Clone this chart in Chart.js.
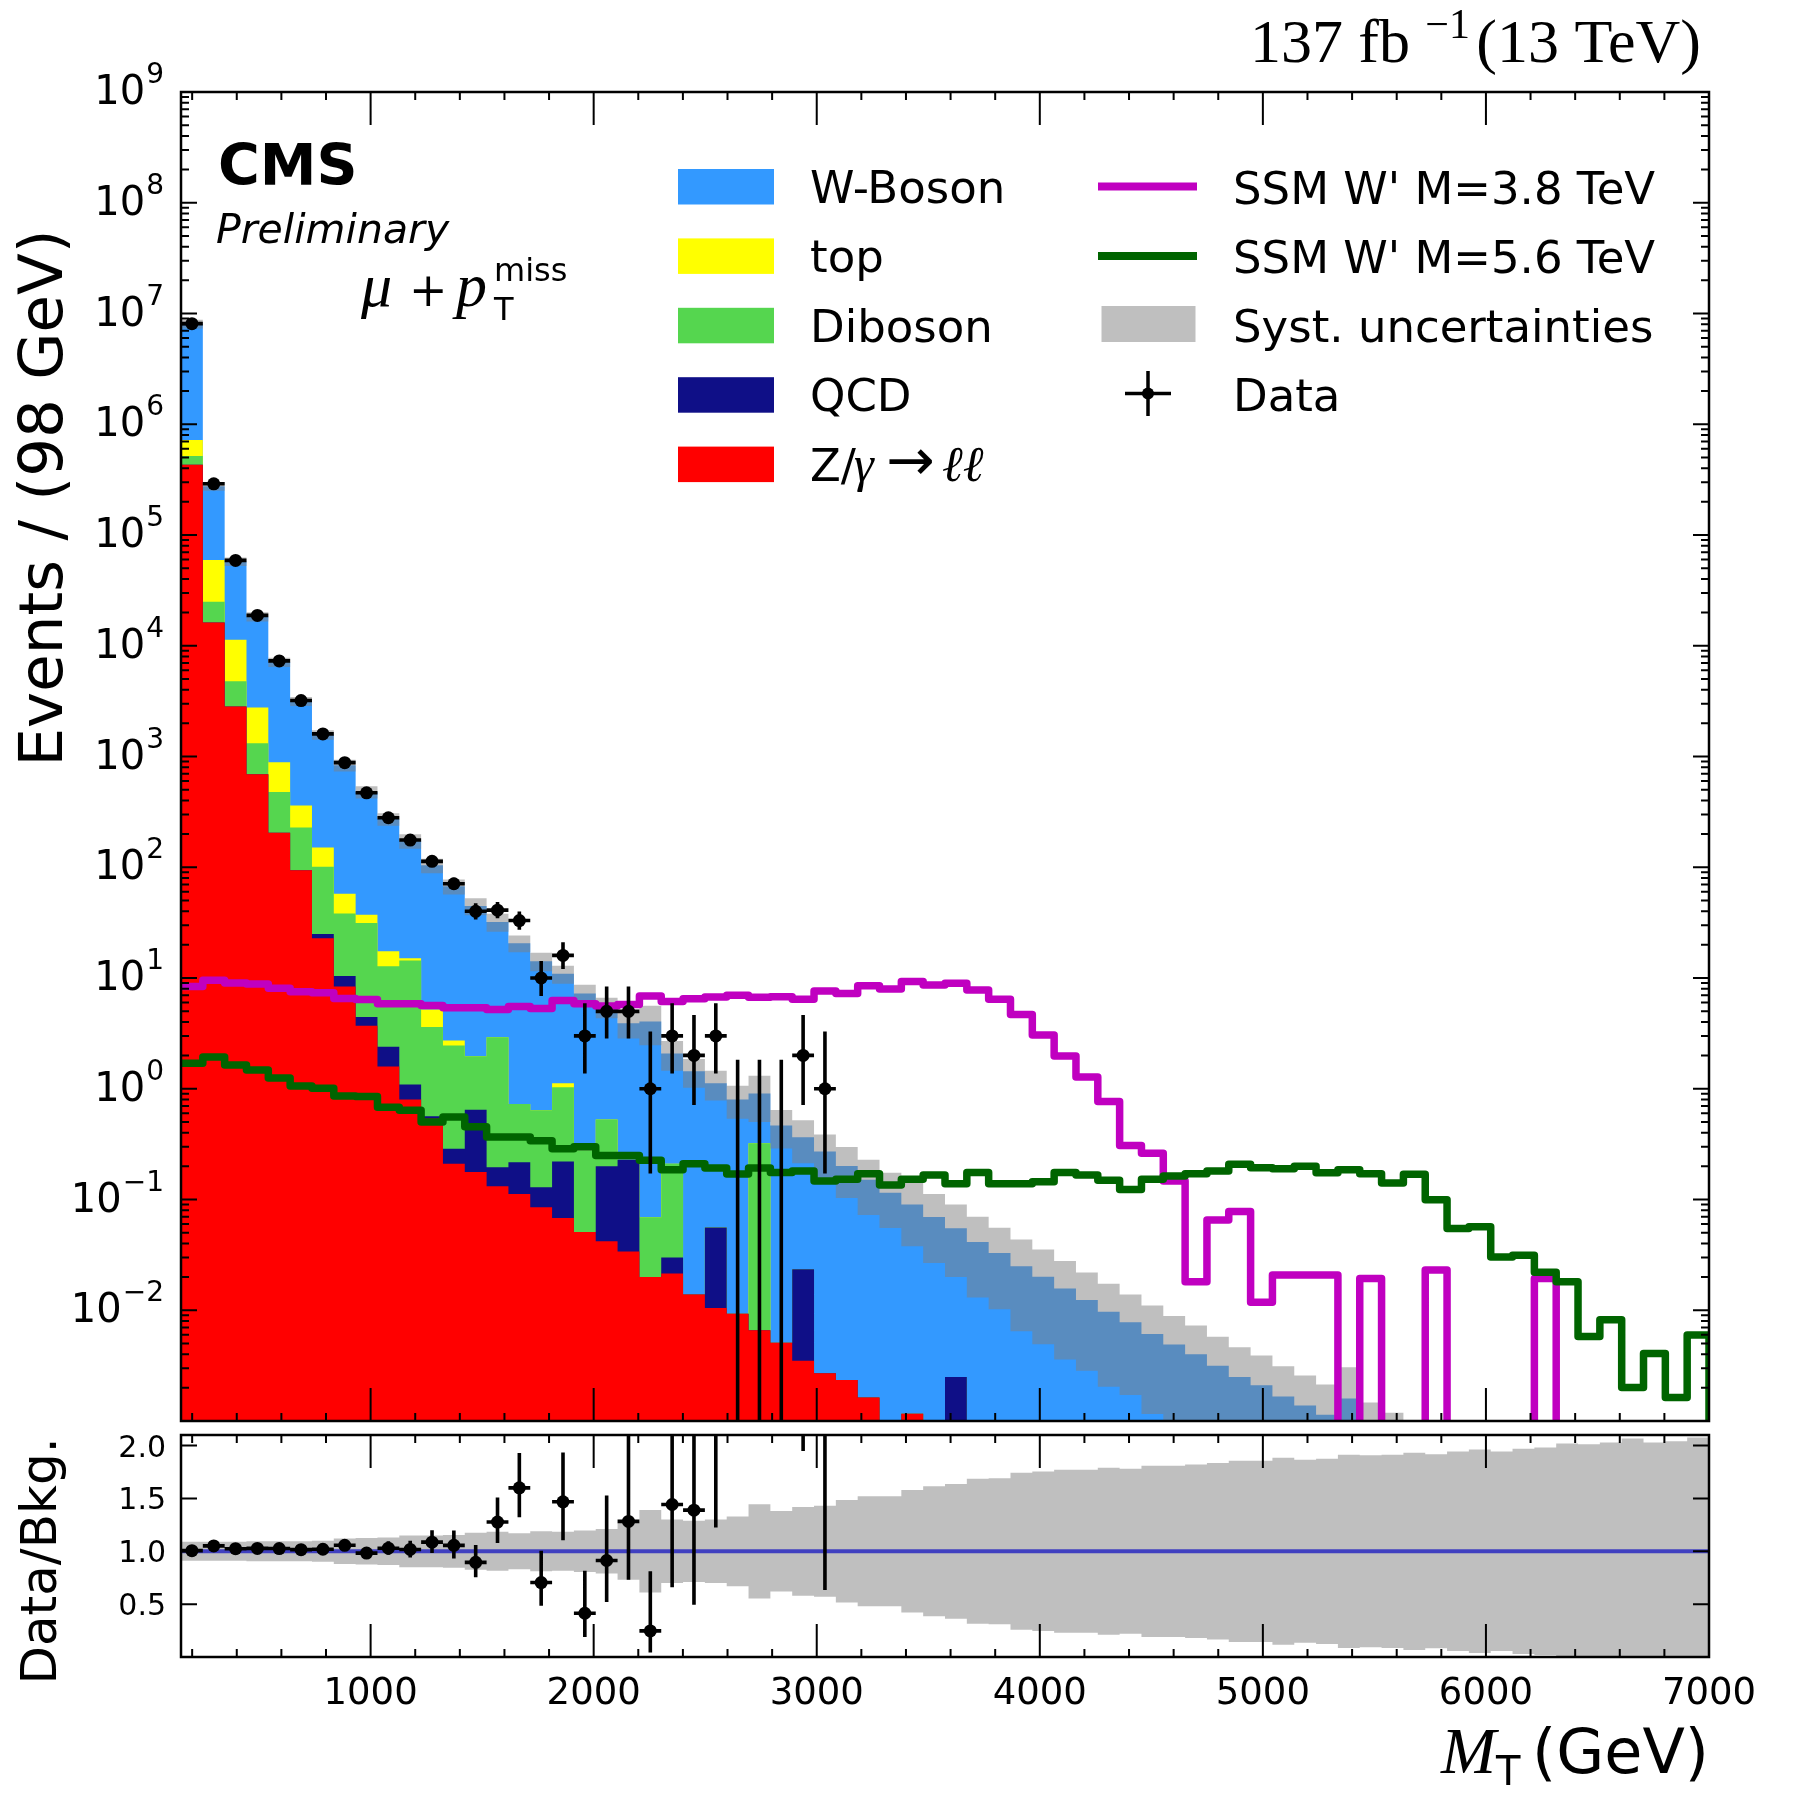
<!DOCTYPE html>
<html lang="en">
<head>
<meta charset="UTF-8">
<meta name="viewport" content="width=device-width, initial-scale=1.0">
<title>MT spectrum, mu + pT miss</title>
<script src="https://cdn.jsdelivr.net/npm/chart.js"></script>
<style>
  body { margin: 0; background: #fff; }
  .page { position: relative; width: 1800px; height: 1800px; }
  canvas { position: absolute; left: 0; }
  #mainChart { top: 0; }
  #ratioChart { top: 1428px; }
</style>
</head>
<body>
<div class="page">
  <canvas id="mainChart" width="1800" height="1428"></canvas>
  <canvas id="ratioChart" width="1800" height="372"></canvas>
</div>
<script>
// binning: 70 bins of ~98 GeV between 150 and 7000 GeV
const X_MIN = 150, X_MAX = 7000, NBINS = 70;
const BIN_W = (X_MAX - X_MIN) / NBINS;
const FLOOR = 1e-6; // empty bins on the log axis

// expected events per bin
const zll = [
  430000, 16200, 2830, 690, 205, 94, 22.9, 8.4, 3.7, 1.59,
  0.80, 0.54, 0.21, 0.177, 0.132, 0.112, 0.085, 0.068, 0.051, 0.042,
  0.034, 0.020, 0.0215, 0.0139, 0.0105, 0.0093, 0.0066, 0.0051, 0.0035, 0.0027,
  0.00235, 0.00163, 0, 0.00116, 0, 0, 0, 0, 0, 0,
  0, 0, 0, 0, 0, 0, 0, 0, 0, 0,
  0, 0, 0, 0, 0, 0, 0, 0, 0, 0,
  0, 0, 0, 0, 0, 0, 0, 0, 0, 0
];
const qcd = [
  0, 0, 0, 0, 0, 0, 2.1, 2.0, 0.75, 0.81,
  0.29, 0.024, 0.077, 0.47, 0.064, 0.105, 0.044, 0.152, 0, 0.158,
  0.194, 0, 0.0085, 0, 0.0453, 0, 0, 0, 0.0199, 0,
  0, 0, 0, 0, 0, 0.0025, 0, 0, 0, 0,
  0, 0, 0, 0, 0, 0, 0, 0, 0, 0,
  0, 0, 0, 0, 0, 0, 0, 0, 0, 0,
  0, 0, 0, 0, 0, 0, 0, 0, 0, 0
];
const diboson = [
  87000, 8800, 1940, 630, 273, 135, 76, 27.8, 26.9, 10.4,
  13.3, 3.04, 2.17, 1.32, 2.72, 0.51, 0.51, 0.81, 0.226, 0.328,
  0, 0.049, 0.18, 0, 0, 0, 0.316, 0, 0, 0,
  0, 0, 0, 0, 0, 0, 0, 0, 0, 0,
  0, 0, 0, 0, 0, 0, 0, 0, 0, 0,
  0, 0, 0, 0, 0, 0, 0, 0, 0, 0,
  0, 0, 0, 0, 0, 0, 0, 0, 0, 0
];
const topq = [
  205000, 34600, 6530, 1450, 409, 132, 50, 19.5, 5.9, 4.6,
  0.7, 1.6, 0.27, 0, 0, 0, 0, 0.09, 0, 0,
  0, 0, 0, 0, 0, 0, 0, 0, 0, 0,
  0, 0, 0, 0, 0, 0, 0, 0, 0, 0,
  0, 0, 0, 0, 0, 0, 0, 0, 0, 0,
  0, 0, 0, 0, 0, 0, 0, 0, 0, 0,
  0, 0, 0, 0, 0, 0, 0, 0, 0, 0
];
const wboson = [
  7330000, 216400, 46300, 15530, 6230, 2790, 1419, 775, 441, 254.6,
  157.9, 98.8, 64.5, 42.7, 29.2, 19.9, 13.56, 9.78, 6.97, 4.95,
  3.67, 3.98, 1.87, 1.426, 1.064, 0.791, 0.583, 0.461, 0.342, 0.268,
  0.198, 0.149, 0.115, 0.089, 0.0695, 0.0525, 0.0414, 0.0329, 0.025, 0.0201,
  0.0157, 0.0124, 0.0097, 0.0078, 0.0061, 0.0049, 0.0040, 0.00315, 0.0025, 0.0021,
  0.00166, 0.00138, 0.00114, 0.0016, 0.00077, 0.00062, 0, 0, 0, 0,
  0, 0, 0, 0, 0, 0, 0, 0, 0, 0
];
// relative systematic uncertainty on the total background
const systRel = [
  0.09, 0.09, 0.09, 0.095, 0.095, 0.095, 0.10, 0.12, 0.125, 0.13,
  0.15, 0.15, 0.155, 0.175, 0.185, 0.17, 0.19, 0.185, 0.197, 0.21,
  0.27, 0.39, 0.30, 0.29, 0.30, 0.33, 0.446, 0.38, 0.42, 0.43,
  0.485, 0.52, 0.52, 0.58, 0.615, 0.637, 0.685, 0.69, 0.742, 0.755,
  0.771, 0.771, 0.79, 0.78, 0.81, 0.81, 0.82, 0.834, 0.857, 0.857,
  0.885, 0.866, 0.876, 0.914, 0.908, 0.914, 0.933, 0.917, 0.943, 0.962,
  0.943, 0.971, 0.981, 1.019, 1.013, 1.029, 1.067, 1.029, 1.041, 1.076
];
// signal hypotheses
const wprime38 = [
  8.36, 9.52, 9.02, 8.83, 8.09, 7.50, 7.34, 6.52, 6.40, 5.86,
  5.86, 5.65, 5.38, 5.38, 5.20, 5.54, 5.30, 6.27, 5.86, 5.60,
  5.76, 6.87, 6.15, 6.50, 6.75, 6.98, 6.70, 6.77, 6.44, 7.63,
  7.26, 8.53, 7.96, 9.29, 8.65, 8.97, 7.79, 6.44, 4.67, 3.06,
  1.98, 1.28, 0.766, 0.307, 0.261, 0.147, 0.0181, 0.0653, 0.078, 0.0118,
  0.0208, 0.0208, 0.0208, 0, 0.0194, 0, 0, 0.0231, 0, 0,
  0, 0, 0.0194, 0, 0, 0, 0, 0, 0, 0
];
const wprime56 = [
  1.70, 1.93, 1.64, 1.48, 1.25, 1.06, 1.01, 0.86, 0.85, 0.68,
  0.64, 0.50, 0.555, 0.454, 0.366, 0.366, 0.34, 0.287, 0.30, 0.25,
  0.25, 0.226, 0.186, 0.21, 0.192, 0.170, 0.192, 0.175, 0.181, 0.147,
  0.152, 0.171, 0.135, 0.152, 0.166, 0.139, 0.175, 0.139, 0.139, 0.145,
  0.175, 0.166, 0.149, 0.123, 0.152, 0.163, 0.171, 0.181, 0.208, 0.194,
  0.190, 0.200, 0.174, 0.186, 0.171, 0.141, 0.169, 0.0996, 0.0548, 0.0568,
  0.0302, 0.0313, 0.022, 0.0181, 0.00578, 0.0082, 0.00201, 0.00406, 0.00163, 0.00598
];
// observed events (first 30 bins, nothing shown above)
const dataCounts = [
  8100000, 290000, 59000, 18800, 7300, 3200, 1600, 880, 470, 280,
  176, 113, 71, 40, 41, 33, 10, 16, 3, 5,
  5, 1, 3, 2, 3, 0, 0, 0, 2, 1
];
// axis labels
const logLabelExps = [-2, -1, 0, 1, 2, 3, 4, 5, 6, 7, 8, 9];
const ratioTicks = [0.5, 1.0, 1.5, 2.0];
const xLabelTicks = [1000, 2000, 3000, 4000, 5000, 6000, 7000];

// colours
const C_W = '#3399ff', C_TOP = '#ffff00', C_DIB = '#55d64f', C_QCD = '#0f0f87', C_ZLL = '#ff0000';
const C_M38 = '#c000c0', C_M56 = '#006400', C_SYST = 'rgba(127,127,127,0.5)', C_UNITY = '#4040c0';
const SANS = '"DejaVu Sans"';
const SERIF = '"Liberation Serif", "DejaVu Serif"';

Chart.defaults.font.family = SANS;

// ---- derived tables ----
const edges = [];
for (let i = 0; i <= NBINS; i++) edges.push(X_MIN + i * BIN_W);
const centers = edges.slice(0, NBINS).map(e => e + BIN_W / 2);

function addUp(...parts) {
  return parts[0].map((_, i) => parts.reduce((s, p) => s + p[i], 0));
}
const cumQcd = addUp(zll, qcd);
const cumDib = addUp(zll, qcd, diboson);
const cumTop = addUp(zll, qcd, diboson, topq);
const total = addUp(zll, qcd, diboson, topq, wboson);

function histPoints(vals, floor) {
  const pts = vals.map((v, i) => ({ x: edges[i], y: Math.max(v, floor) }));
  pts.push({ x: edges[vals.length], y: pts[vals.length - 1].y });
  return pts;
}
// outline that drops to zero after the last bin
function outlinePoints(vals) {
  return [...histPoints(vals, FLOOR), { x: edges[NBINS], y: FLOOR }];
}

// Garwood intervals (Wilson-Hilferty form)
function poisLow(n) { return n > 0 ? n * Math.pow(1 - 1 / (9 * n) - 1 / (3 * Math.sqrt(n)), 3) : 0; }
function poisHigh(n) { const m = n + 1; return m * Math.pow(1 - 1 / (9 * m) + 1 / (3 * Math.sqrt(m)), 3); }

const dataBars = [], dataDots = [], ratioBars = [], ratioDots = [];
dataCounts.forEach((n, i) => {
  const xc = centers[i], x0 = edges[i], x1 = edges[i + 1];
  const lo = poisLow(n), hi = poisHigh(n);
  dataBars.push({ x: xc, y: Math.max(lo, FLOOR) }, { x: xc, y: hi }, { x: xc, y: null });
  if (n > 0) {
    const t = total[i];
    dataBars.push({ x: x0, y: n }, { x: x1, y: n }, { x: x1, y: null });
    dataDots.push({ x: xc, y: n });
    ratioBars.push({ x: xc, y: lo / t }, { x: xc, y: hi / t }, { x: xc, y: null },
                   { x: x0, y: n / t }, { x: x1, y: n / t }, { x: x1, y: null });
    ratioDots.push({ x: xc, y: n / t });
  }
});

const bandLow = total.map((t, i) => t * (1 - systRel[i]));
const bandHigh = total.map((t, i) => t * (1 + systRel[i]));
const ratioLow = systRel.map(r => 1 - r);
const ratioHigh = systRel.map(r => 1 + r);

// ---- frame and inward ticks ----
const xTickSpec = [];
for (let v = 200; v < X_MAX; v += 200) xTickSpec.push({ v, len: v % 1000 === 0 ? 33 : 8 });
const logTickSpec = [];
for (let k = -3; k <= 9; k++) {
  logTickSpec.push({ v: Math.pow(10, k), len: 16 });
  if (k < 9) for (let m = 2; m <= 9; m++) logTickSpec.push({ v: m * Math.pow(10, k), len: 8 });
}
const ratioTickSpec = ratioTicks.map(v => ({ v, len: 16 }));

function makeFrame(yTicks) {
  return {
    id: 'frame',
    afterDatasetsDraw(chart) {
      const { ctx, chartArea: a } = chart;
      const xs = chart.scales.x, ys = chart.scales.y;
      ctx.save();
      ctx.strokeStyle = '#000';
      ctx.lineWidth = 2;
      ctx.beginPath();
      xTickSpec.forEach(t => {
        const px = xs.getPixelForValue(t.v);
        ctx.moveTo(px, a.bottom); ctx.lineTo(px, a.bottom - t.len);
        ctx.moveTo(px, a.top); ctx.lineTo(px, a.top + t.len);
      });
      yTicks.forEach(t => {
        const py = ys.getPixelForValue(t.v);
        ctx.moveTo(a.left, py); ctx.lineTo(a.left + t.len, py);
        ctx.moveTo(a.right, py); ctx.lineTo(a.right - t.len, py);
      });
      ctx.stroke();
      ctx.lineWidth = 2.5;
      ctx.strokeRect(a.left, a.top, a.right - a.left, a.bottom - a.top);
      ctx.restore();
    }
  };
}

function rotatedText(ctx, text, cx, cy, size) {
  ctx.save();
  ctx.translate(cx, cy);
  ctx.rotate(-Math.PI / 2);
  ctx.textAlign = 'center';
  ctx.font = `${size}px ${SANS}`;
  ctx.fillText(text, 0, 0.365 * size);
  ctx.restore();
}

// ---- texts and legend of the upper panel ----
const legendBoxes = [
  { label: 'W-Boson', color: C_W },
  { label: 'top', color: C_TOP },
  { label: 'Diboson', color: C_DIB },
  { label: 'QCD', color: C_QCD },
  { label: null, color: C_ZLL }
];

const mainDeco = {
  id: 'mainDeco',
  afterDraw(chart) {
    const ctx = chart.ctx, ys = chart.scales.y;
    ctx.save();
    ctx.fillStyle = '#000';
    ctx.textAlign = 'left';
    ctx.textBaseline = 'alphabetic';

    // 10^k labels, right edge at x = 164
    logLabelExps.forEach(k => {
      const py = ys.getPixelForValue(Math.pow(10, k));
      const ex = k < 0 ? '\u2212' + (-k) : String(k);
      ctx.font = `28px ${SANS}`;
      const ew = ctx.measureText(ex).width;
      ctx.fillText(ex, 164 - ew, py - 9);
      ctx.font = `40px ${SANS}`;
      ctx.fillText('10', 164 - ew - ctx.measureText('10').width - 1, py + 12);
    });

    rotatedText(ctx, 'Events / (98 GeV)', 40, 498, 61);

    ctx.font = `bold 57px ${SANS}`;
    ctx.fillText('CMS', 218, 185);
    ctx.font = `italic 41px ${SANS}`;
    ctx.fillText('Preliminary', 216, 243);

    // mu + pT^miss
    ctx.font = `italic 62px ${SERIF}`;
    ctx.fillText('\u03bc', 361, 306);
    ctx.font = `46px "DejaVu Serif"`;
    ctx.fillText('+', 409, 306);
    ctx.font = `italic 62px ${SERIF}`;
    ctx.fillText('p', 456, 306);
    ctx.font = `32px ${SANS}`;
    ctx.fillText('miss', 494, 281);
    ctx.fillText('T', 494, 320);

    // luminosity label, laid out from the right
    ctx.textAlign = 'right';
    ctx.font = `62px ${SERIF}`;
    ctx.fillText('(13 TeV)', 1701, 62);
    ctx.fillText('fb', 1410, 62);
    ctx.fillText('137', 1343, 62);
    ctx.font = `42px ${SERIF}`;
    ctx.fillText('\u22121', 1470, 38);
    ctx.textAlign = 'left';

    // legend, left column
    legendBoxes.forEach((item, i) => {
      const top = 169 + i * 69.4;
      ctx.fillStyle = item.color;
      ctx.fillRect(678, top, 96, 35.5);
      ctx.fillStyle = '#000';
      const base = top + 34;
      if (item.label) {
        ctx.font = `45px ${SANS}`;
        ctx.fillText(item.label, 810, base);
      } else {
        ctx.font = `45px ${SANS}`;
        ctx.fillText('Z/', 810, base);
        ctx.font = `italic 50px ${SERIF}`;
        ctx.fillText('\u03b3', 854, base);
        ctx.font = `58px ${SANS}`;
        ctx.fillText('\u2192', 886, base - 1);
        ctx.font = `italic 50px ${SERIF}`;
        ctx.fillText('\u2113\u2113', 942, base);
      }
    });

    // legend, right column
    ctx.lineWidth = 8;
    ctx.strokeStyle = C_M38;
    ctx.beginPath(); ctx.moveTo(1098, 186.5); ctx.lineTo(1197, 186.5); ctx.stroke();
    ctx.strokeStyle = C_M56;
    ctx.beginPath(); ctx.moveTo(1098, 256); ctx.lineTo(1197, 256); ctx.stroke();
    ctx.fillStyle = C_SYST;
    ctx.fillRect(1101.5, 306, 94, 36);
    ctx.strokeStyle = '#000';
    ctx.lineWidth = 3.5;
    ctx.beginPath();
    ctx.moveTo(1148, 371); ctx.lineTo(1148, 416);
    ctx.moveTo(1125, 393.5); ctx.lineTo(1171, 393.5);
    ctx.stroke();
    ctx.fillStyle = '#000';
    ctx.beginPath(); ctx.arc(1148, 393.5, 6, 0, 2 * Math.PI); ctx.fill();

    ctx.font = `45px ${SANS}`;
    ctx.fillText("SSM W' M=3.8 TeV", 1233, 203.5);
    ctx.fillText("SSM W' M=5.6 TeV", 1233, 273);
    ctx.fillText('Syst. uncertainties', 1233, 342);
    ctx.fillText('Data', 1233, 411);
    ctx.restore();
  }
};

// ---- texts of the ratio panel (canvas starts at y = 1428) ----
const ratioDeco = {
  id: 'ratioDeco',
  afterDraw(chart) {
    const ctx = chart.ctx, xs = chart.scales.x, ys = chart.scales.y;
    ctx.save();
    ctx.fillStyle = '#000';
    ctx.textBaseline = 'alphabetic';

    ctx.font = `30px ${SANS}`;
    ctx.textAlign = 'right';
    ratioTicks.forEach(v => ctx.fillText(v.toFixed(1), 166, ys.getPixelForValue(v) + 11));

    ctx.font = `37px ${SANS}`;
    ctx.textAlign = 'center';
    xLabelTicks.forEach(v => ctx.fillText(String(v), xs.getPixelForValue(v), 276));

    rotatedText(ctx, 'Data/Bkg.', 38, 133, 50);

    // M_T (GeV)
    ctx.textAlign = 'left';
    ctx.font = `italic 66px ${SERIF}`;
    ctx.fillText('M', 1441, 345);
    ctx.font = `40px ${SANS}`;
    ctx.fillText('T', 1496, 357);
    ctx.textAlign = 'right';
    ctx.font = `62px ${SANS}`;
    ctx.fillText('(GeV)', 1709, 345);
    ctx.restore();
  }
};

// ---- charts ----
const hidden = { display: false };
const flat = { stepped: true, pointRadius: 0, borderWidth: 0, borderColor: 'rgba(0,0,0,0)' };
const baseOptions = {
  responsive: false,
  animation: false,
  devicePixelRatio: 1,
  events: [],
  plugins: { legend: hidden, tooltip: { enabled: false }, colors: { enabled: false } }
};

new Chart(document.getElementById('mainChart'), {
  type: 'line',
  data: {
    datasets: [
      { ...flat, data: histPoints(total, FLOOR), fill: 'start', backgroundColor: C_W, order: 100 },
      { ...flat, data: histPoints(cumTop, FLOOR), fill: 'start', backgroundColor: C_TOP, order: 99 },
      { ...flat, data: histPoints(cumDib, FLOOR), fill: 'start', backgroundColor: C_DIB, order: 98 },
      { ...flat, data: histPoints(cumQcd, FLOOR), fill: 'start', backgroundColor: C_QCD, order: 97 },
      { ...flat, data: histPoints(zll, FLOOR), fill: 'start', backgroundColor: C_ZLL, order: 96 },
      { ...flat, data: histPoints(bandLow, FLOOR), fill: false, order: 51 },
      { ...flat, data: histPoints(bandHigh, FLOOR), fill: '-1', backgroundColor: C_SYST, order: 50 },
      { data: outlinePoints(wprime38), stepped: true, pointRadius: 0, borderColor: C_M38,
        borderWidth: 7.5, borderJoinStyle: 'round', fill: false, order: 21 },
      { data: outlinePoints(wprime56), stepped: true, pointRadius: 0, borderColor: C_M56,
        borderWidth: 7.5, borderJoinStyle: 'round', fill: false, order: 20 },
      { data: dataBars, pointRadius: 0, borderColor: '#000', borderWidth: 3.6, fill: false, order: 2 },
      { data: dataDots, showLine: false, pointRadius: 6.5, pointBackgroundColor: '#000',
        pointBorderWidth: 0, order: 1 }
    ]
  },
  options: {
    ...baseOptions,
    layout: { padding: { left: 181, right: 91, top: 92, bottom: 7 } },
    scales: {
      x: { type: 'linear', min: X_MIN, max: X_MAX, display: false },
      y: { type: 'logarithmic', min: 1e-3, max: 1e9, display: false }
    }
  },
  plugins: [makeFrame(logTickSpec), mainDeco]
});

new Chart(document.getElementById('ratioChart'), {
  type: 'line',
  data: {
    datasets: [
      { ...flat, data: histPoints(ratioLow, -10), fill: false, order: 51 },
      { ...flat, data: histPoints(ratioHigh, -10), fill: '-1', backgroundColor: C_SYST, order: 50 },
      { data: [{ x: X_MIN, y: 1 }, { x: X_MAX, y: 1 }], pointRadius: 0, borderColor: C_UNITY,
        borderWidth: 4, fill: false, order: 10 },
      { data: ratioBars, pointRadius: 0, borderColor: '#000', borderWidth: 3.6, fill: false, order: 2 },
      { data: ratioDots, showLine: false, pointRadius: 6.5, pointBackgroundColor: '#000',
        pointBorderWidth: 0, order: 1 }
    ]
  },
  options: {
    ...baseOptions,
    layout: { padding: { left: 181, right: 91, top: 7, bottom: 143 } },
    scales: {
      x: { type: 'linear', min: X_MIN, max: X_MAX, display: false },
      y: { type: 'linear', min: 0, max: 2.1, display: false }
    }
  },
  plugins: [makeFrame(ratioTickSpec), ratioDeco]
});
</script>
</body>
</html>
